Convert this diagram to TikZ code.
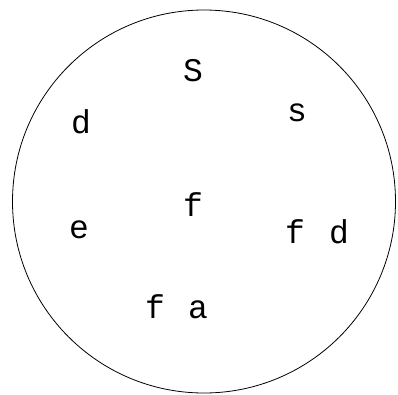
\documentclass[tikz,border=0pt]{standalone}
\usepackage{fontspec}
\setmainfont{Liberation Mono}
\begin{document}
\begin{tikzpicture}[x=1pt,y=-1pt,
  lab/.style={anchor=base,inner sep=0pt,font=\fontsize{33}{34}\selectfont}]
\useasboundingbox (0,0) rectangle (398,394);
\node[draw,circle,line width=0.8pt,minimum size=383pt,inner sep=0pt] (c) at (204,201.5) {};
\node[lab] (S) at (193,81) {S};
\node[lab] (d1) at (81,133) {d};
\node[lab] (s) at (297,121) {s};
\node[lab] (f1) at (193,216) {f};
\node[lab] (e) at (79,238) {e};
\node[lab] (f2) at (295,243) {f};
\node[lab] (d2) at (339,243) {d};
\node[lab] (f3) at (155,318) {f};
\node[lab] (a) at (198,318) {a};
\end{tikzpicture}
\end{document}
